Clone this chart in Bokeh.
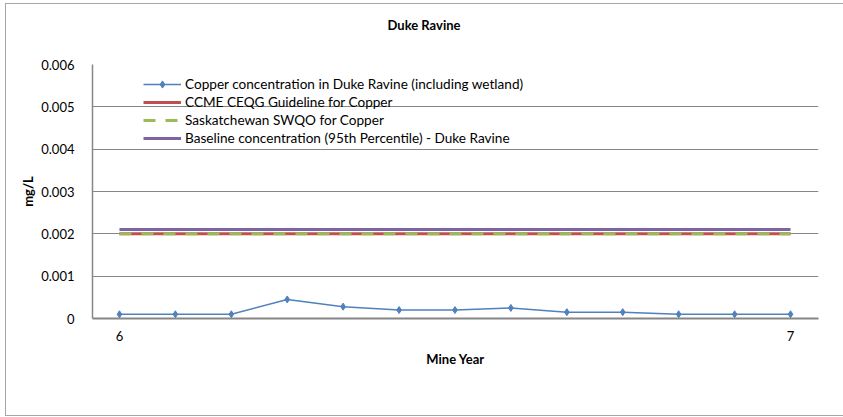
from bokeh.plotting import figure
from bokeh.models import Legend, LegendItem, FixedTicker, Range1d, Title
from bokeh.embed import file_html
from bokeh.resources import INLINE

# ---- data ----
mine_year = [6.0, 6.0833, 6.1667, 6.25, 6.3333, 6.4167, 6.5, 6.5833, 6.6667, 6.75, 6.8333, 6.9167, 7.0]
copper = [0.0001, 0.0001, 0.0001, 0.00045, 0.00028, 0.0002, 0.0002, 0.00025, 0.00015, 0.00015, 0.0001, 0.0001, 0.0001]
guide_x = [6.0, 7.0]
ccme = [0.002, 0.002]
sask = [0.002, 0.002]
baseline = [0.0021, 0.0021]
y_ticks = [0, 0.001, 0.002, 0.003, 0.004, 0.005, 0.006]
y_tick_labels = ["0", "0.001", "0.002", "0.003", "0.004", "0.005", "0.006"]
x_ticks = [6, 7]
labels = ["Copper concentration in Duke Ravine (including wetland)",
          "CCME CEQG Guideline for Copper",
          "Saskatchewan SWQO for Copper",
          "Baseline concentration (95th Percentile) - Duke Ravine"]
title_text = "Duke Ravine"

FONT = "Lato"

p = figure(frame_width=726, frame_height=254,
           min_border_left=86, min_border_right=25, min_border_top=60, min_border_bottom=97,
           x_range=Range1d(5.9598, 7.0417), y_range=Range1d(0, 0.006),
           output_backend="svg", toolbar_location=None)
p.styles = {"margin-left": "5px", "margin-top": "3px",
            "border-left": "1px solid #A6A6A6", "border-top": "1px solid #A6A6A6",
            "border-bottom": "1px solid #A6A6A6"}
p.outline_line_color = None
p.background_fill_color = "white"
p.border_fill_color = "white"

# spacer panel between the frame and the title, then the title itself
spacer = Title(text=" ", text_font_size="1px", standoff=29)
p.add_layout(spacer, "above")
chart_title = Title(text=title_text, align="left", vertical_align="bottom", offset=295, standoff=0,
                    text_font=FONT, text_font_size="13px", text_font_style="bold", text_color="black")
p.add_layout(chart_title, "above")

r_ccme = p.line(guide_x, ccme, line_color="#C0504D", line_width=3)
r_sask = p.line(guide_x, sask, line_color="#9BBB59", line_width=3, line_dash="12 10")
r_base = p.line(guide_x, baseline, line_color="#8064A2", line_width=3)
r_cu = p.line(mine_year, copper, line_color="#4F81BD", line_width=1.5)
r_cu_m = p.scatter(mine_year, copper, marker="diamond", size=7, color="#4F81BD")

# axes
for ax in (p.xaxis[0], p.yaxis[0]):
    ax.major_tick_line_color = None
    ax.minor_tick_line_color = None
    ax.major_label_text_font = FONT
    ax.major_label_text_font_size = "13px"
    ax.major_label_text_color = "black"
    ax.axis_label_text_font = FONT
    ax.axis_label_text_font_size = "13px"
    ax.axis_label_text_font_style = "bold"
    ax.axis_label_text_color = "black"
    ax.axis_line_color = "#868686"

p.xaxis.ticker = FixedTicker(ticks=x_ticks)
p.xaxis.axis_line_width = 2
p.xaxis.axis_label = "Mine Year"
p.xaxis.major_label_standoff = 6
p.xaxis.axis_label_standoff = 7

p.yaxis.ticker = FixedTicker(ticks=y_ticks)
p.yaxis.major_label_overrides = {t: l for t, l in zip(y_ticks, y_tick_labels)}
p.yaxis.axis_label = "mg/L"
p.yaxis.major_label_standoff = 12
p.yaxis.axis_label_standoff = 2
p.yaxis.axis_line_width = 1.5

p.xgrid.grid_line_color = None
p.ygrid.ticker = FixedTicker(ticks=y_ticks)
p.ygrid.grid_line_color = "#868686"
p.ygrid.grid_line_width = 1

legend = Legend(items=[
    LegendItem(label=labels[0], renderers=[r_cu, r_cu_m]),
    LegendItem(label=labels[1], renderers=[r_ccme]),
    LegendItem(label=labels[2], renderers=[r_sask]),
    LegendItem(label=labels[3], renderers=[r_base]),
], location=(51, 171))
legend.background_fill_alpha = 0
legend.border_line_color = None
legend.label_text_font = FONT
legend.label_text_font_size = "13.6px"
legend.label_text_color = "black"
legend.glyph_width = 38
legend.glyph_height = 18
legend.label_height = 18
legend.label_standoff = 4
legend.spacing = 0
legend.padding = 0
legend.margin = 0
p.add_layout(legend)

open("out.html", "w").write(file_html(p, INLINE))
